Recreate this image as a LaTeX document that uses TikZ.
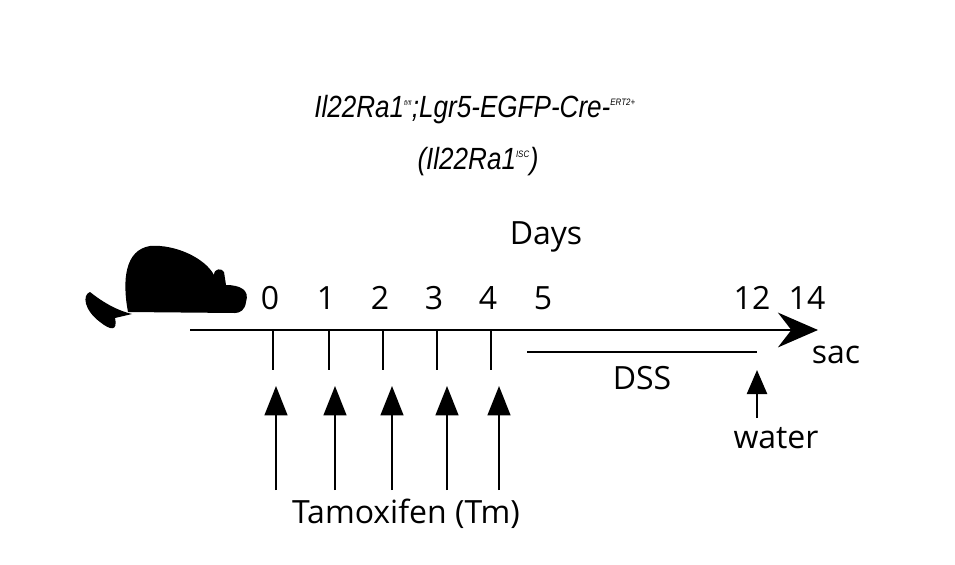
\documentclass[tikz,border=0pt]{standalone}
\usepackage{fontspec}
\setmainfont{Open Sans}
\newfontfamily\ttl{Liberation Sans}
\usetikzlibrary{arrows.meta}
\tikzset{lbl/.style={font=\fontsize{24}{28}\selectfont},
 up/.style={line width=1.8pt,-{Triangle[length=22pt,width=17pt]}},
 tick/.style={line width=1.8pt}}
\begin{document}
\begin{tikzpicture}[x=0.75pt,y=-0.75pt]
\useasboundingbox (0,0) rectangle (955,564);
\node (t1) at (475,110) {\ttl\itshape\fontsize{23}{26}\selectfont\scalebox{0.85}[1]{Il22Ra1$^{\mbox{\tiny\ttl\itshape fl/fl}}$;Lgr5-EGFP-Cre-$^{\mbox{\scriptsize\ttl\itshape ERT2+}}$}};
\node (t2) at (478,162) {\ttl\itshape\fontsize{23}{26}\selectfont\scalebox{0.85}[1]{(Il22Ra1$^{\mbox{\scriptsize\ttl\itshape ISC}}$)}};
% mouse
\fill (128,312) .. controls (122,280) and (125,250) .. (150,246) .. controls (175,244) and (205,258) .. (214,275)
 .. controls (214,268) and (222,268) .. (224,272) -- (226,285) .. controls (240,285) and (250,290) .. (246,302)
 .. controls (245,310) and (240,313) .. (235,313) -- cycle;
\fill (132,314) .. controls (115,310) and (100,300) .. (90,292) .. controls (82,295) and (84,310) .. (100,322)
 .. controls (110,330) and (118,332) .. (115,318) -- cycle;
\coordinate (a0) at (190,330); \coordinate (a1) at (818,330);
\draw[line width=2.2pt,-{Stealth[length=30pt,width=26pt,inset=10pt]}] (a0) -- (a1);
\foreach \x/\n in {273/0,329/1,383/2,437/3,491/4}{
 \draw[tick] (\x,330) -- (\x,370);
 \node[lbl] at (\x-3,298) {\n};}
\node[lbl] at (543,298) {5};
\node[lbl] at (752,298) {12};
\node[lbl] at (807,298) {14};
\node[lbl] (days) at (546,237) {Days};
\node[lbl] (sac) at (836,355) {sac};
\coordinate (d0) at (527,352); \coordinate (d1) at (757,352);
\draw[line width=2.2pt] (d0) -- (d1);
\node[lbl] (dss) at (642,378) {DSS};
\coordinate (w0) at (757,418); \coordinate (w1) at (757,370);
\draw[up,-{Triangle[length=18pt,width=15pt]}] (w0) -- (w1);
\node[lbl] (water) at (776,438) {water};
\foreach \x in {276,335,392,447,499}{
 \draw[up] (\x,490) -- (\x,386);}
\node[lbl] (tam) at (406,514) {Tamoxifen (Tm)};
\end{tikzpicture}
\end{document}
